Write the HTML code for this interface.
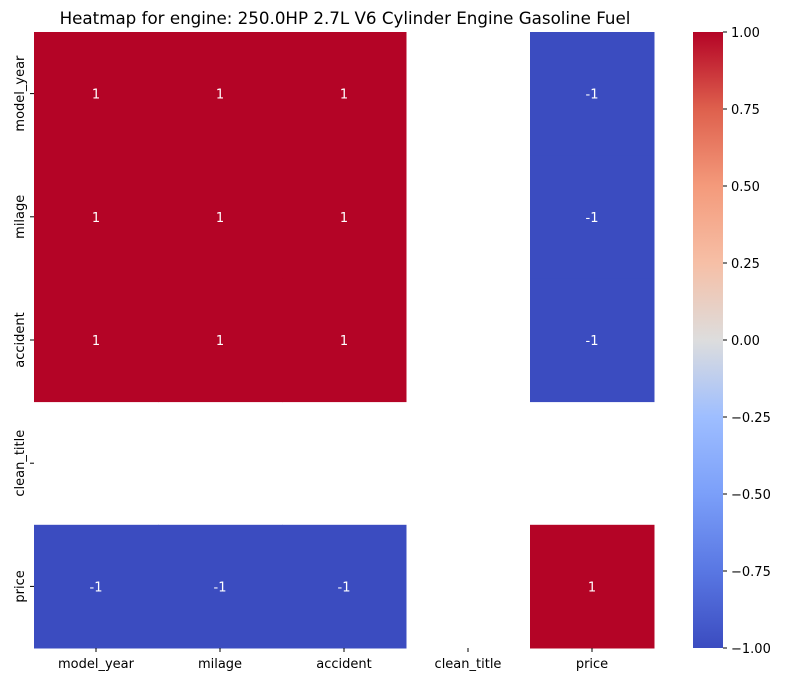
<!DOCTYPE html>
<html><head><meta charset="utf-8"><style>
body{margin:0;background:#fff;}
text{font-family:"DejaVu Sans","Liberation Sans",sans-serif;}
</style></head><body>
<svg id="chart" width="785" height="682" xmlns="http://www.w3.org/2000/svg">
<defs><linearGradient id="cw" x1="0" y1="1" x2="0" y2="0">
<stop offset="0" stop-color="#3b4cc0"/><stop offset="0.125" stop-color="#5977e3"/>
<stop offset="0.25" stop-color="#7b9ff9"/><stop offset="0.375" stop-color="#9ebeff"/>
<stop offset="0.5" stop-color="#dddddd"/><stop offset="0.625" stop-color="#f6bfa6"/>
<stop offset="0.75" stop-color="#f49a7b"/><stop offset="0.875" stop-color="#de604d"/>
<stop offset="1" stop-color="#b40426"/></linearGradient></defs>
<text x="345" y="24" text-anchor="middle" font-size="16.7">Heatmap for engine: 250.0HP 2.7L V6 Cylinder Engine Gasoline Fuel</text>
<g id="cells"></g>
<rect x="693" y="32" width="30" height="616" fill="url(#cw)"/>
<g id="cbticks"></g>
</svg>
<script>
const labels=["model_year","milage","accident","clean_title","price"];
const values=[[1,1,1,null,-1],[1,1,1,null,-1],[1,1,1,null,-1],[null,null,null,null,null],[-1,-1,-1,null,1]];
const cbTicks=[1.00,0.75,0.50,0.25,0.00,-0.25,-0.50,-0.75,-1.00];
const X0=34,Y0=32,W=620,H=616;
const cw=W/labels.length,ch=H/labels.length;
const xs=i=>X0+i*cw, ys=j=>Y0+j*ch;
const cy=v=>Y0+(1-v)/2*H;
const NS="http://www.w3.org/2000/svg";
const svg=document.getElementById('chart'),g=document.getElementById('cells'),cb=document.getElementById('cbticks');
function col(v){return v>0?"#b40426":"#3b4cc0";}
function mk(t,a,p){const e=document.createElementNS(NS,t);for(const k in a)e.setAttribute(k,a[k]);p.appendChild(e);return e;}
values.forEach((row,j)=>row.forEach((v,i)=>{
 if(v===null)return;
 const r=mk('rect',{x:xs(i),y:ys(j),width:cw+0.5,height:ch+0.5,fill:col(v)},g);
 
 
 const t=mk('text',{x:xs(i)+cw/2,y:ys(j)+ch/2+5,'text-anchor':'middle','font-size':'13',fill:'#fff'},g);
 t.textContent=v;
 
 
}));
labels.forEach((l,i)=>{
 mk('line',{x1:xs(i)+cw/2,x2:xs(i)+cw/2,y1:Y0+H,y2:Y0+H+4,stroke:'#000'},svg);
 const t=mk('text',{x:xs(i)+cw/2,y:Y0+H+20,'text-anchor':'middle','font-size':'13'},svg);
 t.textContent=l;
 
 
 const y=ys(i)+ch/2;
 mk('line',{x1:X0-4,x2:X0,y1:y,y2:y,stroke:'#000'},svg);
 const u=mk('text',{x:0,y:0,'text-anchor':'middle','font-size':'13',transform:`translate(${X0-10},${y}) rotate(-90)`},svg);
 u.textContent=l;
 
 
});
cbTicks.forEach(v=>{
 const y=cy(v);
 mk('line',{x1:723,x2:727,y1:y,y2:y,stroke:'#000'},cb);
 const t=mk('text',{x:731,y:y+5,'font-size':'13'},cb);
 t.textContent=(v<0?'\u2212':'')+Math.abs(v).toFixed(2);
 
 
});
</script>
</body></html>
